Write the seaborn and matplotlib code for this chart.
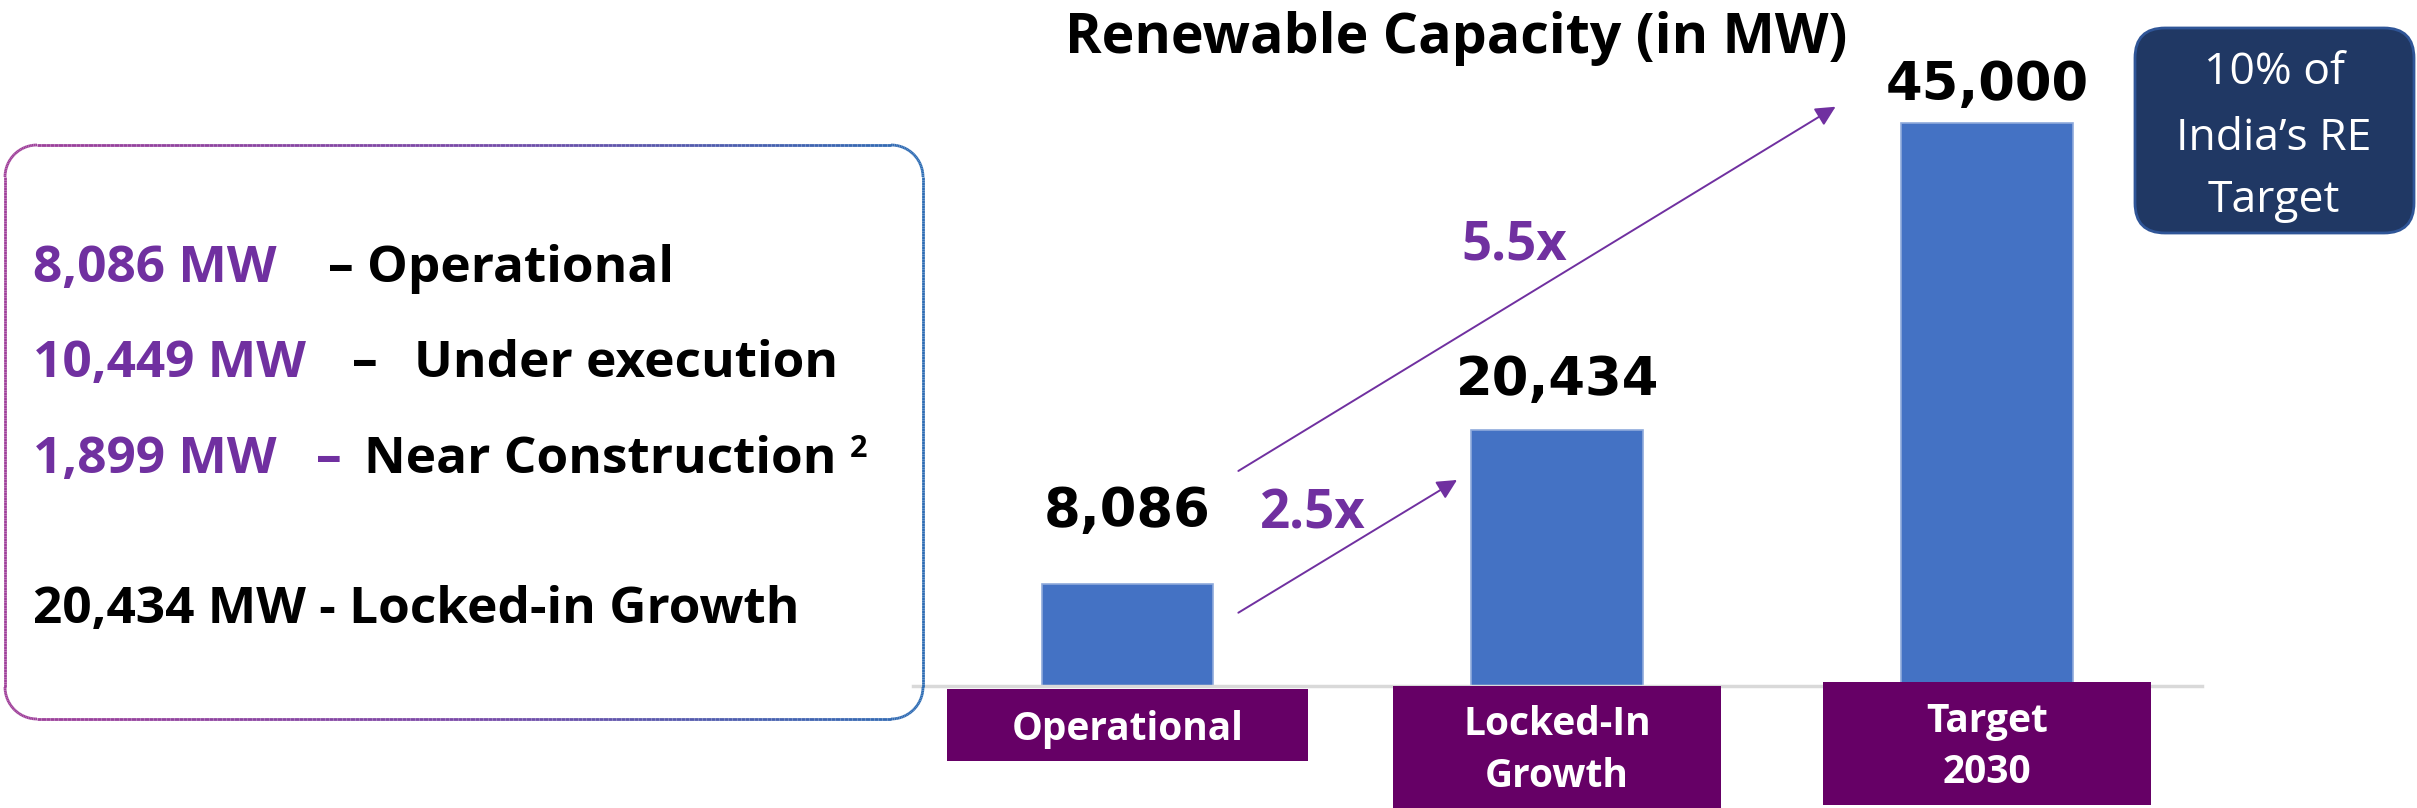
import numpy as np
import pandas as pd
import matplotlib
matplotlib.use("Agg")
import matplotlib.pyplot as plt
import seaborn as sns
from matplotlib.patches import FancyBboxPatch, Rectangle
from matplotlib.collections import LineCollection
from matplotlib.colors import LinearSegmentedColormap
from matplotlib.transforms import blended_transform_factory

# ==============================================================================
# Datos
# ==============================================================================
categorias = ["Operational", "Locked-In\nGrowth", "Target\n2030"]
capacidad_mw = [8086, 20434, 45000]
etiquetas_valor = ["8,086", "20,434", "45,000"]
multiplicadores = ["2.5x", "5.5x"]

resumen_mw = ["8,086 MW", "10,449 MW", "1,899 MW"]
resumen_estado = ["Operational", "Under execution", "Near Construction"]
total_texto = "20,434 MW - Locked-in Growth"
titulo = "Renewable Capacity (in MW)"
nota_meta = ["10% of", "India’s RE", "Target"]

# ==============================================================================
# Estilo
# ==============================================================================
AZUL_BARRA = "#4472C4"
BORDE_BARRA = "#8FAADC"
MORADO = "#7030A0"
CAJA_CAT = "#660066"
AZUL_OSCURO = "#203864"

sns.set_theme(style="white")
plt.rcParams["font.family"] = ["Open Sans", "DejaVu Sans"]
FUENTE_NUM = ["DejaVu Sans"]

W, H = 2417, 808
fig = plt.figure(figsize=(W / 100, H / 100), dpi=100)
fig.patch.set_facecolor("white")
renderer = fig.canvas.get_renderer()


def px(x, y):
    """pixeles (origen arriba-izquierda) -> pulgadas de la figura"""
    return x / 100, (H - y) / 100


pulg = fig.dpi_scale_trans

# ==============================================================================
# Recuadro izquierdo con borde degradado
# ==============================================================================
def puntos_rect_redondeado(x0, y0, x1, y1, r, n=200):
    pts = []
    esquinas = [(x1 - r, y1 - r, 0, 90), (x0 + r, y1 - r, 90, 180),
                (x0 + r, y0 + r, 180, 270), (x1 - r, y0 + r, 270, 360)]
    for cx, cy, a0, a1 in esquinas:
        t = np.radians(np.linspace(a0, a1, 30))
        pts.append(np.column_stack([cx + r * np.cos(t), cy + r * np.sin(t)]))
    salida = []
    for i in range(4):
        a = pts[i]
        b = pts[(i + 1) % 4]
        salida.append(a)
        salida.append(np.linspace(a[-1], b[0], n))
    return np.vstack(salida)


bx0, by0 = px(5, 719)
bx1, by1 = px(923, 145)
p = puntos_rect_redondeado(bx0, by0, bx1, by1, 0.32)
segs = np.stack([p[:-1], p[1:]], axis=1)
cmap_borde = LinearSegmentedColormap.from_list("borde", ["#A0409A", "#7A4AA8", "#2E6DB4"])
lc = LineCollection(segs, colors=cmap_borde((segs[:, 0, 0] - bx0) / (bx1 - bx0)),
                    linewidths=2, transform=pulg)
fig.add_artist(lc)


def escribir_linea(partes, y):
    """Fragmentos de una linea: (texto, color, tam, x_px). Si un fragmento
    se encima con el anterior se corre a la derecha."""
    fin = 0
    for texto, color, tam, x in partes:
        x = max(x, fin + 12)
        t = fig.text(*px(x, y), texto, transform=pulg, color=color, fontsize=tam,
                     fontweight="bold", va="baseline")
        fin = t.get_window_extent(renderer).x1
    return t


fs_izq = 37
escribir_linea([(resumen_mw[0], MORADO, fs_izq, 33),
                ("– " + resumen_estado[0], "black", fs_izq, 328)], 282)
escribir_linea([(resumen_mw[1], MORADO, fs_izq, 33), ("–", "black", fs_izq, 352),
                (resumen_estado[1], "black", fs_izq, 414)], 377)
sup = escribir_linea([(resumen_mw[2], MORADO, fs_izq, 33), ("–", MORADO, fs_izq, 316),
                      (resumen_estado[2], "black", fs_izq, 364),
                      ("2", "black", 22, 850)], 473)
sup.set_y(px(0, 457)[1])
escribir_linea([(total_texto, "black", fs_izq, 33)], 623)

# ==============================================================================
# Grafico de barras
# ==============================================================================
ax = fig.add_axes([0.3776, 0.1514, 0.5333, 0.8486])
ax.patch.set_alpha(0)
df = pd.DataFrame({"categoria": categorias, "mw": capacidad_mw})
sns.barplot(data=df, x="categoria", y="mw", color=AZUL_BARRA, saturation=1,
            width=0.4, edgecolor=BORDE_BARRA, linewidth=1.2, ax=ax)
ax.set_xlim(-0.5, 2.5)
ax.set_ylim(0, 54800)
ax.set_xticks([])
ax.set_yticks([])
ax.set_xlabel("")
ax.set_ylabel("")
for lado in ["top", "left", "right"]:
    ax.spines[lado].set_visible(False)
ax.spines["bottom"].set_color("#D9D9D9")
ax.spines["bottom"].set_linewidth(2.5)

# etiquetas de valor (desplazamiento en puntos sobre cada barra)
despl_etiqueta = [42, 25, 16]
for i, (v, txt) in enumerate(zip(capacidad_mw, etiquetas_valor)):
    ax.annotate(txt, xy=(i, v), xytext=(0, despl_etiqueta[i]), textcoords="offset points",
                ha="center", va="baseline", fontsize=38, fontweight="bold",
                family=FUENTE_NUM, color="black", annotation_clip=False)

# flechas de crecimiento
flechas = [((0.258, 5830), (0.767, 16440)), ((0.258, 17160), (1.648, 46270))]
pos_mult = [(0.432, 12600), (0.899, 34080)]
for (ini, fin), txt, pos in zip(flechas, multiplicadores, pos_mult):
    ax.annotate("", xy=fin, xytext=ini,
                arrowprops=dict(arrowstyle="-|>", color=MORADO, lw=1.4,
                                mutation_scale=30, shrinkA=0, shrinkB=0),
                annotation_clip=False)
    ax.text(pos[0], pos[1], txt, ha="center", va="baseline", fontsize=38,
            fontweight="bold", color=MORADO)

# cajas de categorias
mezcla = blended_transform_factory(ax.transData, fig.transFigure)
ancho_caja = [0.84, 0.763, 0.763]
cajas_y = [(0.0582, 0.1473), (0.0, 0.151), (0.0037, 0.156)]
base_lineas = [[740], [735, 786.7], [731.7, 783]]
for i, cat in enumerate(categorias):
    y0, y1 = cajas_y[i]
    ax.add_patch(Rectangle((i - ancho_caja[i] / 2, y0), ancho_caja[i], y1 - y0,
                           transform=mezcla, facecolor=CAJA_CAT, edgecolor="none",
                           clip_on=False, zorder=3))
    for linea, yb in zip(cat.split("\n"), base_lineas[i]):
        ax.text(i, (H - yb) / H, linea, transform=mezcla, ha="center", va="baseline",
                fontsize=28, fontweight="bold", color="white", zorder=4, clip_on=False)

# titulo
fig.text(1456 / W, (H - 53) / H, titulo, ha="center", va="baseline",
         fontsize=40, fontweight="bold", color="black")

# recuadro de meta
caja_meta = FancyBboxPatch(px(2135, 233), 2.79, 2.05,
                           boxstyle="round,pad=0,rounding_size=0.3", transform=pulg,
                           facecolor=AZUL_OSCURO, edgecolor="#2F5597", linewidth=2)
fig.add_artist(caja_meta)
for linea, yb in zip(nota_meta, [84, 149.6, 212]):
    fig.text(*px(2274, yb), linea, transform=pulg, ha="center", va="baseline",
             fontsize=32, color="white")

fig.savefig("out.png", dpi=100)
